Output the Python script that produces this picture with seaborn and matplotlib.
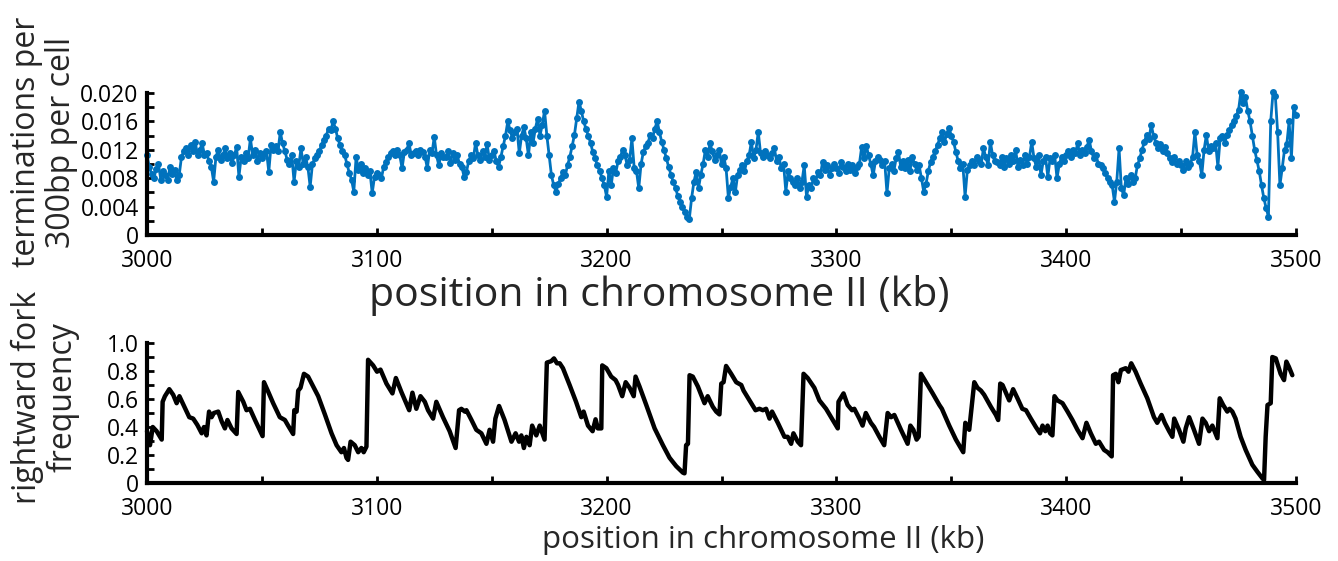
import numpy as np
import pandas as pd
import matplotlib
matplotlib.use("Agg")
import matplotlib.pyplot as plt
from matplotlib.ticker import MultipleLocator, FixedLocator, FixedFormatter
import seaborn as sns

# ---------------- data ----------------
# terminations per 300bp per cell, sampled every 1 kb from 3000 to 3500 kb (units of 1e-4)
term_start_kb = 3000
term_values_e4 = [
    112, 96, 86, 80, 93, 100, 78, 90, 84, 77,
    96, 86, 92, 77, 84, 110, 118, 122, 113, 127,
    118, 131, 112, 120, 129, 113, 115, 104, 96, 75,
    110, 120, 105, 112, 122, 108, 116, 101, 112, 124,
    82, 110, 104, 115, 108, 136, 112, 120, 104, 115,
    108, 114, 118, 89, 127, 120, 126, 118, 145, 129,
    118, 106, 100, 112, 75, 104, 96, 122, 100, 110,
    96, 68, 100, 108, 113, 118, 127, 134, 140, 150,
    148, 160, 150, 136, 127, 118, 113, 100, 88, 78,
    61, 110, 92, 100, 88, 95, 85, 90, 59, 82,
    88, 84, 80, 96, 103, 110, 115, 118, 112, 120,
    112, 94, 117, 120, 129, 113, 115, 118, 112, 120,
    117, 110, 94, 120, 115, 138, 112, 98, 115, 110,
    110, 118, 102, 115, 106, 112, 100, 96, 82, 89,
    104, 112, 108, 130, 112, 105, 118, 110, 128, 106,
    112, 118, 104, 96, 110, 125, 140, 160, 148, 136,
    145, 150, 115, 140, 152, 136, 112, 145, 130, 150,
    164, 140, 155, 175, 140, 112, 84, 70, 61, 72,
    80, 89, 84, 98, 110, 125, 141, 165, 188, 175,
    160, 150, 140, 130, 117, 108, 98, 90, 80, 70,
    54, 90, 70, 95, 88, 104, 110, 120, 112, 98,
    105, 136, 95, 90, 66, 100, 117, 125, 130, 141,
    136, 150, 160, 145, 131, 120, 108, 96, 85, 75,
    66, 55, 47, 40, 33, 26, 23, 52, 75, 89,
    66, 85, 100, 120, 110, 129, 118, 105, 112, 120,
    100, 110, 94, 52, 68, 80, 60, 84, 92, 98,
    90, 104, 112, 131, 108, 120, 145, 115, 110, 118,
    112, 108, 115, 122, 104, 110, 94, 100, 61, 90,
    80, 75, 70, 80, 66, 75, 98, 54, 70, 66,
    80, 75, 89, 84, 103, 92, 98, 84, 94, 100,
    94, 88, 103, 96, 90, 100, 92, 98, 88, 96,
    100, 124, 108, 126, 112, 100, 84, 104, 110, 106,
    98, 104, 59, 94, 100, 90, 108, 117, 96, 104,
    95, 105, 90, 110, 100, 92, 98, 80, 61, 72,
    90, 103, 110, 118, 127, 136, 145, 131, 142, 151,
    140, 131, 117, 104, 94, 100, 54, 92, 98, 104,
    98, 110, 104, 100, 122, 110, 98, 131, 112, 104,
    103, 98, 110, 96, 108, 100, 112, 104, 120, 96,
    105, 98, 112, 100, 110, 131, 108, 96, 112, 84,
    104, 110, 82, 108, 104, 112, 80, 100, 110, 104,
    112, 118, 110, 120, 115, 129, 112, 120, 116, 124,
    134, 118, 108, 112, 100, 98, 94, 88, 80, 75,
    70, 47, 75, 122, 66, 56, 80, 72, 84, 75,
    80, 98, 108, 120, 131, 141, 135, 155, 140, 130,
    122, 128, 118, 124, 115, 108, 103, 110, 100, 104,
    98, 91, 104, 96, 100, 110, 145, 112, 104, 84,
    120, 141, 118, 126, 122, 130, 96, 136, 140, 130,
    141, 148, 155, 160, 168, 176, 201, 186, 194, 175,
    160, 140, 120, 105, 90, 70, 52, 38, 26, 160,
    201, 196, 145, 70, 94, 120, 128, 160, 108, 180,
    169,
]

# rightward fork frequency (vertices of the curve)
fork_kb = [
    3000.0, 3001.3, 3002.5, 3004.2, 3006.4, 3006.8, 3007.8, 3009.7, 3011.4, 3012.9,
    3014.1, 3015.8, 3018.4, 3020.1, 3021.9, 3023.8, 3024.8, 3025.9, 3027.0, 3028.1,
    3029.1, 3031.0, 3032.5, 3033.9, 3035.0, 3036.8, 3039.0, 3039.7, 3041.9, 3043.3,
    3044.8, 3047.0, 3050.3, 3050.9, 3052.8, 3054.9, 3057.8, 3060.0, 3061.4, 3063.6,
    3064.1, 3065.1, 3065.8, 3066.8, 3068.3, 3070.1, 3072.3, 3074.5, 3077.4, 3080.3,
    3082.5, 3084.6, 3085.7, 3086.8, 3087.5, 3088.6, 3090.4, 3091.9, 3093.3, 3094.3,
    3095.5, 3096.2, 3098.4, 3100.1, 3101.6, 3104.2, 3106.8, 3108.3, 3110.7, 3114.1,
    3115.5, 3117.2, 3119.0, 3120.9, 3122.3, 3124.5, 3125.9, 3128.8, 3131.7, 3134.3,
    3135.8, 3136.8, 3138.3, 3139.0, 3141.2, 3143.3, 3145.5, 3147.7, 3149.1, 3150.6,
    3151.6, 3153.2, 3155.6, 3158.6, 3160.4, 3161.9, 3162.9, 3164.0, 3165.1, 3166.5,
    3167.6, 3169.4, 3170.9, 3173.0, 3174.0, 3175.9, 3177.1, 3178.4, 3179.6, 3181.0,
    3183.9, 3186.7, 3189.0, 3190.0, 3191.9, 3193.9, 3195.2, 3196.2, 3197.7, 3198.1,
    3199.9, 3202.0, 3203.9, 3205.0, 3206.8, 3208.3, 3210.0, 3211.8, 3212.6, 3214.3,
    3217.2, 3220.9, 3224.5, 3227.4, 3230.3, 3233.2, 3233.9, 3234.6, 3235.4, 3236.1,
    3237.5, 3239.7, 3242.6, 3244.0, 3246.2, 3247.7, 3249.1, 3249.9, 3250.9, 3252.0,
    3254.2, 3256.4, 3258.6, 3259.6, 3262.2, 3264.8, 3266.5, 3268.0, 3269.4, 3270.9,
    3272.0, 3274.5, 3277.4, 3278.8, 3280.3, 3281.3, 3283.2, 3284.6, 3285.7, 3287.5,
    3290.4, 3292.6, 3295.5, 3298.4, 3300.6, 3300.9, 3303.1, 3304.9, 3306.8, 3307.8,
    3310.0, 3311.4, 3312.8, 3315.0, 3316.4, 3318.7, 3320.8, 3322.3, 3323.8, 3325.2,
    3328.1, 3331.0, 3332.2, 3333.5, 3334.9, 3335.8, 3336.8, 3339.0, 3341.9, 3344.8,
    3345.9, 3349.1, 3352.0, 3353.8, 3355.2, 3356.1, 3357.8, 3360.0, 3361.4, 3362.9,
    3364.3, 3367.2, 3369.4, 3370.4, 3371.3, 3372.3, 3375.2, 3376.9, 3378.8, 3380.9,
    3382.5, 3384.6, 3386.8, 3388.6, 3389.7, 3390.9, 3391.9, 3393.0, 3394.0, 3394.9,
    3396.2, 3398.4, 3400.6, 3402.7, 3404.9, 3407.1, 3408.8, 3410.7, 3412.9, 3414.3,
    3416.5, 3418.0, 3419.8, 3420.4, 3421.6, 3422.7, 3423.8, 3425.9, 3427.1, 3428.3,
    3430.2, 3432.4, 3435.3, 3438.2, 3439.6, 3441.5, 3442.9, 3444.8, 3446.2, 3447.0,
    3449.1, 3451.0, 3452.0, 3453.5, 3455.6, 3457.8, 3459.3, 3460.7, 3462.2, 3463.6,
    3465.8, 3466.8, 3468.3, 3470.1, 3471.1, 3472.3, 3473.7, 3475.9, 3478.1, 3481.0,
    3483.2, 3485.4, 3486.1, 3486.8, 3487.6, 3489.0, 3489.7, 3491.2, 3493.3, 3494.8,
    3495.8, 3496.9, 3498.4,
]
fork_freq = [
    0.37, 0.27, 0.40, 0.37, 0.31, 0.58, 0.62, 0.67, 0.63, 0.57,
    0.62, 0.56, 0.47, 0.46, 0.415, 0.355, 0.40, 0.34, 0.51, 0.47,
    0.50, 0.51, 0.44, 0.39, 0.45, 0.39, 0.35, 0.65, 0.58, 0.52,
    0.53, 0.45, 0.335, 0.72, 0.65, 0.57, 0.47, 0.45, 0.41, 0.35,
    0.52, 0.51, 0.66, 0.68, 0.78, 0.76, 0.69, 0.62, 0.49, 0.355,
    0.27, 0.22, 0.25, 0.18, 0.165, 0.295, 0.27, 0.22, 0.25, 0.22,
    0.26, 0.88, 0.84, 0.795, 0.81, 0.71, 0.64, 0.75, 0.65, 0.52,
    0.645, 0.53, 0.62, 0.58, 0.52, 0.46, 0.58, 0.47, 0.37, 0.25,
    0.52, 0.53, 0.51, 0.52, 0.45, 0.38, 0.355, 0.28, 0.38, 0.295,
    0.46, 0.55, 0.45, 0.295, 0.355, 0.295, 0.34, 0.25, 0.33, 0.27,
    0.41, 0.34, 0.41, 0.31, 0.86, 0.87, 0.89, 0.855, 0.855, 0.82,
    0.70, 0.58, 0.47, 0.51, 0.41, 0.37, 0.455, 0.39, 0.39, 0.84,
    0.82, 0.76, 0.735, 0.70, 0.62, 0.72, 0.68, 0.62, 0.76, 0.69,
    0.56, 0.39, 0.27, 0.18, 0.12, 0.074, 0.069, 0.27, 0.28, 0.77,
    0.76, 0.69, 0.57, 0.62, 0.545, 0.51, 0.49, 0.71, 0.72, 0.836,
    0.78, 0.72, 0.70, 0.66, 0.59, 0.52, 0.53, 0.52, 0.53, 0.46,
    0.51, 0.43, 0.33, 0.33, 0.28, 0.355, 0.295, 0.27, 0.78, 0.75,
    0.68, 0.59, 0.53, 0.45, 0.39, 0.58, 0.64, 0.557, 0.52, 0.53,
    0.46, 0.41, 0.50, 0.43, 0.40, 0.33, 0.27, 0.50, 0.47, 0.486,
    0.38, 0.28, 0.41, 0.38, 0.31, 0.33, 0.78, 0.72, 0.64, 0.557,
    0.53, 0.41, 0.31, 0.26, 0.22, 0.43, 0.38, 0.72, 0.68, 0.66,
    0.63, 0.545, 0.486, 0.45, 0.71, 0.70, 0.59, 0.67, 0.605, 0.53,
    0.52, 0.46, 0.40, 0.355, 0.41, 0.37, 0.41, 0.355, 0.34, 0.62,
    0.59, 0.57, 0.51, 0.45, 0.38, 0.32, 0.43, 0.355, 0.28, 0.295,
    0.236, 0.22, 0.19, 0.77, 0.78, 0.72, 0.807, 0.82, 0.795, 0.855,
    0.795, 0.71, 0.605, 0.47, 0.43, 0.486, 0.43, 0.37, 0.33, 0.46,
    0.38, 0.295, 0.39, 0.47, 0.38, 0.28, 0.46, 0.43, 0.37, 0.41,
    0.32, 0.605, 0.557, 0.51, 0.53, 0.51, 0.46, 0.33, 0.236, 0.13,
    0.08, 0.033, 0.021, 0.33, 0.557, 0.57, 0.90, 0.89, 0.78, 0.735,
    0.867, 0.83, 0.77,
]

top_yticks = [0, 0.004, 0.008, 0.012, 0.016, 0.020]
top_yticklabels = ["0", "0.004", "0.008", "0.012", "0.016", "0.020"]
bot_yticks = [0, 0.2, 0.4, 0.6, 0.8, 1.0]
bot_yticklabels = ["0", "0.2", "0.4", "0.6", "0.8", "1.0"]
xticks = [3000, 3100, 3200, 3300, 3400, 3500]
xticklabels = ["3000", "3100", "3200", "3300", "3400", "3500"]

xlabel_text = "position in chromosome II (kb)"
top_ylabel = "terminations per\n300bp per cell"
bot_ylabel = "rightward fork\nfrequency"

# ---------------- figure ----------------
sns.set_theme(style="ticks")
plt.rcParams["font.family"] = ["Open Sans", "DejaVu Sans"]

W, H = 1338, 561
fig = plt.figure(figsize=(W / 100, H / 100), dpi=100)
fig.patch.set_facecolor("white")

def fx(px):
    return px / W

def fy(py):
    return 1 - py / H

ax1 = fig.add_axes([fx(147), fy(235), fx(1296) - fx(147), fy(93) - fy(235)])
ax2 = fig.add_axes([fx(147), fy(483), fx(1296) - fx(147), fy(343) - fy(483)])

term_df = pd.DataFrame({
    "kb": term_start_kb + np.arange(len(term_values_e4)),
    "val": np.array(term_values_e4) * 1e-4,
})
fork_df = pd.DataFrame({"kb": fork_kb, "freq": fork_freq})

blue = "#0072BD"
sns.lineplot(data=term_df, x="kb", y="val", ax=ax1, color=blue, linewidth=2.0,
             marker="o", markersize=5.0, markeredgewidth=0, markerfacecolor=blue,
             estimator=None, sort=False, errorbar=None)
sns.lineplot(data=fork_df, x="kb", y="freq", ax=ax2, color="black", linewidth=3.2,
             estimator=None, sort=False, errorbar=None)

tick_fs = 16.5
for ax in (ax1, ax2):
    ax.set_xlim(3000, 3500)
    ax.set_xlabel("")
    ax.set_ylabel("")
    for s in ("top", "right"):
        ax.spines[s].set_visible(False)
    for s in ("left", "bottom"):
        ax.spines[s].set_linewidth(3.0)
        ax.spines[s].set_color("black")
        ax.spines[s].set_capstyle("projecting")
    ax.xaxis.set_major_locator(FixedLocator(xticks))
    ax.xaxis.set_major_formatter(FixedFormatter(xticklabels))
    ax.xaxis.set_minor_locator(MultipleLocator(50))
    ax.tick_params(axis="both", which="both", direction="in", length=5, width=2,
                   color="black", labelsize=tick_fs, labelcolor="black")
    ax.tick_params(axis="x", which="major", pad=10)
    ax.tick_params(axis="y", which="major", pad=6)
    ax.set_facecolor("white")
    ax.grid(False)

ax1.set_ylim(0, 0.020)
ax1.yaxis.set_major_locator(FixedLocator(top_yticks))
ax1.yaxis.set_major_formatter(FixedFormatter(top_yticklabels))
ax1.yaxis.set_minor_locator(MultipleLocator(0.002))

ax2.set_ylim(0, 1.0)
ax2.yaxis.set_major_locator(FixedLocator(bot_yticks))
ax2.yaxis.set_major_formatter(FixedFormatter(bot_yticklabels))
ax2.yaxis.set_minor_locator(MultipleLocator(0.1))

for line in ax1.lines + ax2.lines:
    line.set_clip_on(False)

# axis labels
fig.text(fx(659), fy(306.5), xlabel_text, fontsize=29.5, ha="center", va="baseline")
fig.text(fx(763), fy(548), xlabel_text, fontsize=22.5, ha="center", va="baseline")
fig.text(fx(44), fy(142), top_ylabel, fontsize=23, rotation=90, ha="center",
         va="center", multialignment="center", linespacing=1.1)
fig.text(fx(45), fy(397), bot_ylabel, fontsize=23, rotation=90, ha="center",
         va="center", multialignment="center", linespacing=1.1)

fig.savefig("out.png", dpi=100, facecolor="white")
